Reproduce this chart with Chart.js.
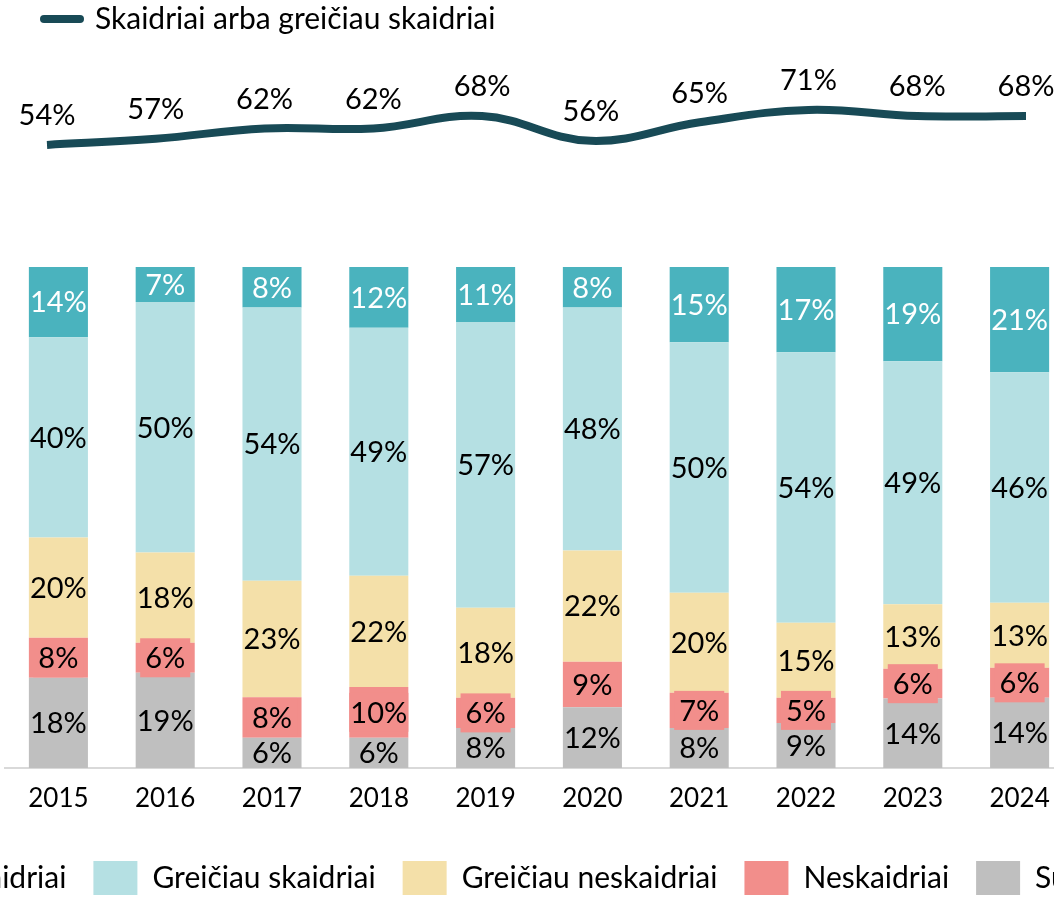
<!DOCTYPE html>
<html lang="lt">
<head>
<meta charset="utf-8">
<title>Skaidrumo vertinimas 2015–2024</title>
<script src="https://cdn.jsdelivr.net/npm/chart.js@4.4.1/dist/chart.umd.min.js"></script>
<style>
  html, body { margin: 0; padding: 0; background: #fff; overflow: hidden; }
  body { width: 1054px; height: 897px; position: relative; }
  #barChart { position: absolute; left: -150px; top: 0; }
  #lineChart { position: absolute; left: 0; top: 0; }
</style>
</head>
<body>
<canvas id="barChart" width="1500" height="905"></canvas>
<canvas id="lineChart" width="1054" height="250"></canvas>
<script>
// Years on the x axis
const YEARS = ["2015", "2016", "2017", "2018", "2019", "2020", "2021", "2022", "2023", "2024"];

// Answer shares per year, %
const SKAIDRIAI = [14, 7, 8, 12, 11, 8, 15, 17, 19, 21];
const GREICIAU_SKAIDRIAI = [40, 50, 54, 49, 57, 48, 50, 54, 49, 46];
const GREICIAU_NESKAIDRIAI = [20, 18, 23, 22, 18, 22, 20, 15, 13, 13];
const NESKAIDRIAI = [8, 6, 8, 10, 6, 9, 7, 5, 6, 6];
const SUNKU_PASAKYTI = [18, 19, 6, 6, 8, 12, 8, 9, 14, 14];

// "Skaidriai" + "Greičiau skaidriai" line
const SKAIDRIAI_ARBA_GREICIAU = [54, 57, 62, 62, 68, 56, 65, 71, 68, 68];

const COLORS = {
  skaidriai: "#4AB3BE",
  greiciauSkaidriai: "#B5E0E3",
  greiciauNeskaidriai: "#F4E0A9",
  neskaidriai: "#F28E8B",
  sunku: "#BFBFBF",
  line: "#184A56"
};

const FONT = "Lato, 'Open Sans', sans-serif";
Chart.defaults.font.family = FONT;
Chart.defaults.color = "#000";

// every bar is drawn as a 100% stack, like a percent-stacked chart
const series = [SUNKU_PASAKYTI, NESKAIDRIAI, GREICIAU_NESKAIDRIAI, GREICIAU_SKAIDRIAI, SKAIDRIAI];
const totals = YEARS.map((_, i) => series.reduce((acc, s) => acc + s[i], 0));
const share = values => values.map((v, i) => v / totals[i] * 100);

function makeSet(label, values, color, labelColor, labelBg) {
  return {
    label,
    data: share(values),
    raw: values,
    backgroundColor: color,
    borderWidth: 0,
    labelColor,
    labelBg: labelBg ? color : null,
    categoryPercentage: 1,
    barPercentage: 0.553
  };
}

// value labels in the middle of each segment
const segmentLabels = {
  id: "segmentLabels",
  afterDatasetsDraw(chart) {
    const ctx = chart.ctx;
    ctx.save();
    ctx.font = "29px " + FONT;
    ctx.textAlign = "center";
    ctx.textBaseline = "middle";
    chart.data.datasets.forEach((ds, di) => {
      const meta = chart.getDatasetMeta(di);
      meta.data.forEach((bar, i) => {
        const text = ds.raw[i] + "%";
        const y = (bar.y + bar.base) / 2;
        if (ds.labelBg) {
          const w = Math.min(ctx.measureText(text).width + 10, bar.width);
          ctx.fillStyle = ds.labelBg;
          ctx.fillRect(bar.x - w / 2, y - 19.5, w, 39);
        }
        ctx.fillStyle = ds.labelColor;
        ctx.fillText(text, bar.x, y + 1);
      });
    });
    ctx.restore();
  }
};

new Chart(document.getElementById("barChart"), {
  type: "bar",
  data: {
    labels: YEARS,
    datasets: [
      makeSet("Sunku pasakyti", SUNKU_PASAKYTI, COLORS.sunku, "#000", false),
      makeSet("Neskaidriai", NESKAIDRIAI, COLORS.neskaidriai, "#000", true),
      makeSet("Greičiau neskaidriai", GREICIAU_NESKAIDRIAI, COLORS.greiciauNeskaidriai, "#000", false),
      makeSet("Greičiau skaidriai", GREICIAU_SKAIDRIAI, COLORS.greiciauSkaidriai, "#000", false),
      makeSet("Skaidriai", SKAIDRIAI, COLORS.skaidriai, "#fff", false)
    ]
  },
  options: {
    responsive: false,
    animation: false,
    layout: { padding: { left: 10, right: 80, top: 267, bottom: 0 } },
    plugins: {
      legend: {
        position: "bottom",
        reverse: true,
        labels: { boxWidth: 44, boxHeight: 34, padding: 27, color: "#000", font: { size: 30 } }
      },
      tooltip: { enabled: false }
    },
    scales: {
      x: {
        stacked: true,
        grid: { display: false },
        border: { color: "#D9D9D9", width: 2 },
        ticks: { color: "#000", font: { size: 26 }, padding: 7 },
        afterFit: s => { s.height = 66; }
      },
      y: {
        stacked: true,
        min: 0,
        max: 100,
        grid: { display: false },
        border: { display: false },
        ticks: { display: false },
        afterFit: s => { s.width = 145; }
      },
      yRight: {
        position: "right",
        grid: { display: false },
        border: { display: false },
        ticks: { display: false },
        afterFit: s => { s.width = 197; }
      }
    }
  },
  plugins: [segmentLabels]
});

// percentages written above the line points
const pointLabels = {
  id: "pointLabels",
  afterDatasetsDraw(chart) {
    const ctx = chart.ctx;
    const ds = chart.data.datasets[0];
    ctx.save();
    ctx.font = "29px " + FONT;
    ctx.fillStyle = "#000";
    ctx.textAlign = "center";
    ctx.textBaseline = "middle";
    chart.getDatasetMeta(0).data.forEach((pt, i) => {
      ctx.fillText(ds.data[i] + "%", pt.x, pt.y - 29);
    });
    ctx.restore();
  }
};

new Chart(document.getElementById("lineChart"), {
  type: "line",
  data: {
    labels: YEARS,
    datasets: [{
      label: "Skaidriai arba greičiau skaidriai",
      data: SKAIDRIAI_ARBA_GREICIAU,
      borderColor: COLORS.line,
      backgroundColor: COLORS.line,
      borderWidth: 8,
      tension: 0.4,
      pointRadius: 0,
      fill: false
    }]
  },
  options: {
    responsive: false,
    animation: false,
    layout: { padding: { left: 40, right: 28, top: 0, bottom: 0 } },
    plugins: {
      legend: {
        position: "top",
        align: "start",
        labels: {
          usePointStyle: true,
          pointStyleWidth: 36,
          padding: 4,
          color: "#000",
          font: { size: 30 },
          generateLabels(chart) {
            const items = Chart.defaults.plugins.legend.labels.generateLabels(chart);
            items.forEach(it => { it.pointStyle = "line"; it.lineCap = "round"; });
            return items;
          }
        }
      },
      tooltip: { enabled: false }
    },
    scales: {
      x: { display: false, offset: false },
      y: {
        min: 3,
        max: 103,
        grid: { display: false },
        border: { display: false },
        ticks: { display: false },
        afterFit: s => { s.width = 7; }
      }
    }
  },
  plugins: [pointLabels]
});
</script>
</body>
</html>
